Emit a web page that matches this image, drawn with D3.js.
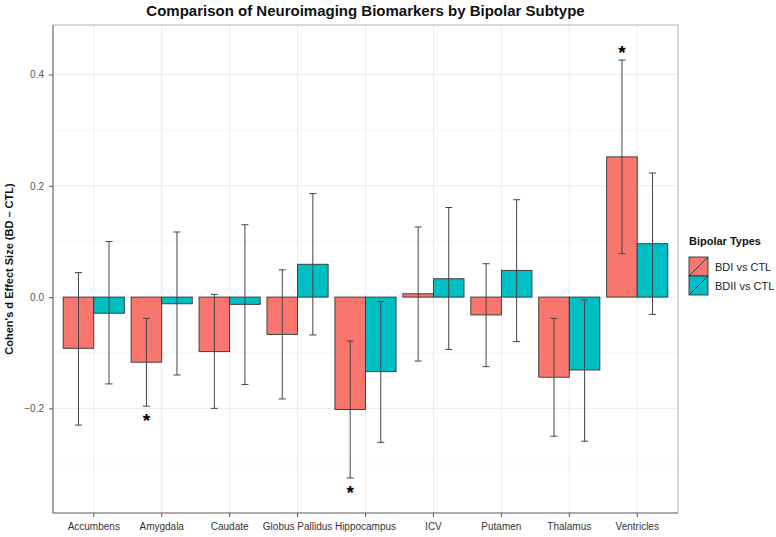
<!DOCTYPE html>
<html lang="en">
<head>
    <meta charset="utf-8">
    <script src="https://d3js.org/d3.v7.min.js"></script>
    <style type="text/css">
        body {
            margin: 0;
            background: white;
            font-family: "Liberation Sans", Arial, sans-serif;
        }
    </style>
</head>
<body>
<svg id="chart"></svg>
<script type="text/javascript">
    var width = 776;
    var height = 537;

    // values
    var categories = ["Accumbens", "Amygdala", "Caudate", "Globus Pallidus", "Hippocampus", "ICV", "Putamen", "Thalamus", "Ventricles"];
    var groups = ["BDI vs CTL", "BDII vs CTL"];
    var bdiValues = [-0.092, -0.117, -0.098, -0.067, -0.202, 0.006, -0.032, -0.144, 0.252];
    var bdiLower = [-0.230, -0.196, -0.200, -0.183, -0.325, -0.115, -0.125, -0.250, 0.078];
    var bdiUpper = [0.044, -0.038, 0.005, 0.049, -0.079, 0.126, 0.060, -0.038, 0.426];
    var bdiiValues = [-0.029, -0.012, -0.013, 0.059, -0.134, 0.033, 0.048, -0.131, 0.096];
    var bdiiLower = [-0.156, -0.140, -0.157, -0.068, -0.261, -0.094, -0.080, -0.259, -0.031];
    var bdiiUpper = [0.100, 0.117, 0.130, 0.186, -0.008, 0.161, 0.175, -0.005, 0.223];
    var bdiSignificant = ["Amygdala", "Hippocampus", "Ventricles"];
    var yTicks = [-0.2, 0.0, 0.2, 0.4];
    var yMinorTicks = [-0.3, -0.1, 0.1, 0.3];

    var colors = ["#F8766D", "#00BFC4"];

    var rows = [];
    categories.forEach(function (c, i) {
        rows.push({cat: c, group: groups[0], value: bdiValues[i], lo: bdiLower[i], hi: bdiUpper[i], star: bdiSignificant.indexOf(c) >= 0});
        rows.push({cat: c, group: groups[1], value: bdiiValues[i], lo: bdiiLower[i], hi: bdiiUpper[i], star: false});
    });

    var panel = {left: 53, right: 678, top: 25, bottom: 513};

    var svg = d3.select("#chart")
        .attr("width", width)
        .attr("height", height);

    var x = d3.scaleBand()
        .domain(categories)
        .range([panel.left, panel.right])
        .paddingInner(0.1)
        .paddingOuter(0.15);

    var xSub = d3.scaleBand()
        .domain(groups)
        .range([0, x.bandwidth()]);

    var y = d3.scaleLinear()
        .domain([-0.388, 0.489])
        .range([panel.bottom, panel.top]);

    var color = d3.scaleOrdinal().domain(groups).range(colors);

    // grid
    var grid = svg.append("g");
    grid.selectAll(".minor")
        .data(yMinorTicks)
        .join("line")
        .attr("x1", panel.left).attr("x2", panel.right)
        .attr("y1", function (d) { return y(d); })
        .attr("y2", function (d) { return y(d); })
        .style("stroke", "#f4f4f4")
        .style("stroke-width", 0.8);
    grid.selectAll(".major")
        .data(yTicks)
        .join("line")
        .attr("x1", panel.left).attr("x2", panel.right)
        .attr("y1", function (d) { return y(d); })
        .attr("y2", function (d) { return y(d); })
        .style("stroke", "#ebebeb")
        .style("stroke-width", 1);
    grid.selectAll(".vert")
        .data(categories)
        .join("line")
        .attr("x1", function (d) { return x(d) + x.bandwidth() / 2; })
        .attr("x2", function (d) { return x(d) + x.bandwidth() / 2; })
        .attr("y1", panel.top).attr("y2", panel.bottom)
        .style("stroke", "#ebebeb")
        .style("stroke-width", 1);

    // bars
    svg.append("g").selectAll("rect")
        .data(rows)
        .join("rect")
        .attr("x", function (d) { return x(d.cat) + xSub(d.group); })
        .attr("width", xSub.bandwidth())
        .attr("y", function (d) { return y(Math.max(0, d.value)); })
        .attr("height", function (d) { return Math.abs(y(d.value) - y(0)); })
        .style("fill", function (d) { return color(d.group); })
        .style("stroke", "#333")
        .style("stroke-width", 0.9);

    // error bars
    var capW = 3.5;
    var err = svg.append("g")
        .style("stroke", "#444")
        .style("stroke-width", 1);
    rows.forEach(function (d) {
        var cx = x(d.cat) + xSub(d.group) + xSub.bandwidth() / 2;
        err.append("line").attr("x1", cx).attr("x2", cx).attr("y1", y(d.lo)).attr("y2", y(d.hi));
        err.append("line").attr("x1", cx - capW).attr("x2", cx + capW).attr("y1", y(d.lo)).attr("y2", y(d.lo));
        err.append("line").attr("x1", cx - capW).attr("x2", cx + capW).attr("y1", y(d.hi)).attr("y2", y(d.hi));
    });

    // significance stars
    svg.append("g").selectAll("text")
        .data(rows.filter(function (d) { return d.star; }))
        .join("text")
        .attr("x", function (d) { return x(d.cat) + xSub(d.group) + xSub.bandwidth() / 2; })
        .attr("y", function (d) { return d.value < 0 ? y(d.lo) + 21 : y(d.hi) - 1; })
        .attr("text-anchor", "middle")
        .style("font-size", "19px")
        .style("font-weight", "bold")
        .style("fill", "#000")
        .text("*");

    // panel border
    svg.append("rect")
        .attr("x", panel.left).attr("y", panel.top)
        .attr("width", panel.right - panel.left)
        .attr("height", panel.bottom - panel.top)
        .style("fill", "none")
        .style("stroke", "#b3b3b3")
        .style("stroke-width", 1);
    svg.append("line")
        .attr("x1", panel.left).attr("x2", panel.left)
        .attr("y1", panel.top).attr("y2", panel.bottom)
        .style("stroke", "#7f7f7f").style("stroke-width", 1.2);
    svg.append("line")
        .attr("x1", panel.left).attr("x2", panel.right)
        .attr("y1", panel.bottom).attr("y2", panel.bottom)
        .style("stroke", "#7f7f7f").style("stroke-width", 1.2);

    // axes
    var xAxis = svg.append("g")
        .attr("transform", "translate(0," + panel.bottom + ")")
        .call(d3.axisBottom(x).tickSizeOuter(0).tickSize(4).tickPadding(6));
    xAxis.select(".domain").remove();
    xAxis.selectAll("line").style("stroke", "#555");
    xAxis.selectAll("text")
        .style("font-family", "'Liberation Sans', Arial, sans-serif")
        .style("font-size", "10px")
        .style("fill", "#333");

    var yAxis = svg.append("g")
        .attr("transform", "translate(" + panel.left + ",0)")
        .call(d3.axisLeft(y).tickValues(yTicks).tickFormat(d3.format(".1f")).tickSize(4).tickPadding(5));
    yAxis.select(".domain").remove();
    yAxis.selectAll("line").style("stroke", "#555");
    yAxis.selectAll("text")
        .text(function (d) { return d3.format(".1f")(d).replace("-", "\u2212"); })
        .style("font-family", "'Liberation Sans', Arial, sans-serif")
        .style("font-size", "10px")
        .style("fill", "#555");

    // titles
    svg.append("text")
        .attr("x", (panel.left + panel.right) / 2)
        .attr("y", 16)
        .attr("text-anchor", "middle")
        .style("font-size", "15px")
        .style("font-weight", "bold")
        .style("fill", "#111")
        .text("Comparison of Neuroimaging Biomarkers by Bipolar Subtype");

    svg.append("text")
        .attr("transform", "translate(13," + ((panel.top + panel.bottom) / 2) + ") rotate(-90)")
        .attr("text-anchor", "middle")
        .style("font-size", "11px")
        .style("font-weight", "bold")
        .style("fill", "#111")
        .text("Cohen's d Effect Size (BD \u2013 CTL)");

    // legend
    var legend = svg.append("g").attr("transform", "translate(689,245)");
    legend.append("text")
        .attr("x", 0).attr("y", 0)
        .style("font-size", "11px")
        .style("font-weight", "bold")
        .style("fill", "#111")
        .text("Bipolar Types");
    var keySize = 19;
    var item = legend.selectAll(".item")
        .data(groups)
        .join("g")
        .attr("transform", function (d, i) { return "translate(0," + (12 + i * keySize) + ")"; });
    item.append("rect")
        .attr("width", keySize).attr("height", keySize)
        .style("fill", function (d) { return color(d); })
        .style("stroke", "#333")
        .style("stroke-width", 0.9);
    item.append("line")
        .attr("x1", 0).attr("y1", keySize).attr("x2", keySize).attr("y2", 0)
        .style("stroke", "#333")
        .style("stroke-width", 1);
    item.append("text")
        .attr("x", keySize + 7)
        .attr("y", keySize / 2 + 4)
        .style("font-size", "11px")
        .style("fill", "#222")
        .text(function (d) { return d; });
</script>
</body>
</html>
